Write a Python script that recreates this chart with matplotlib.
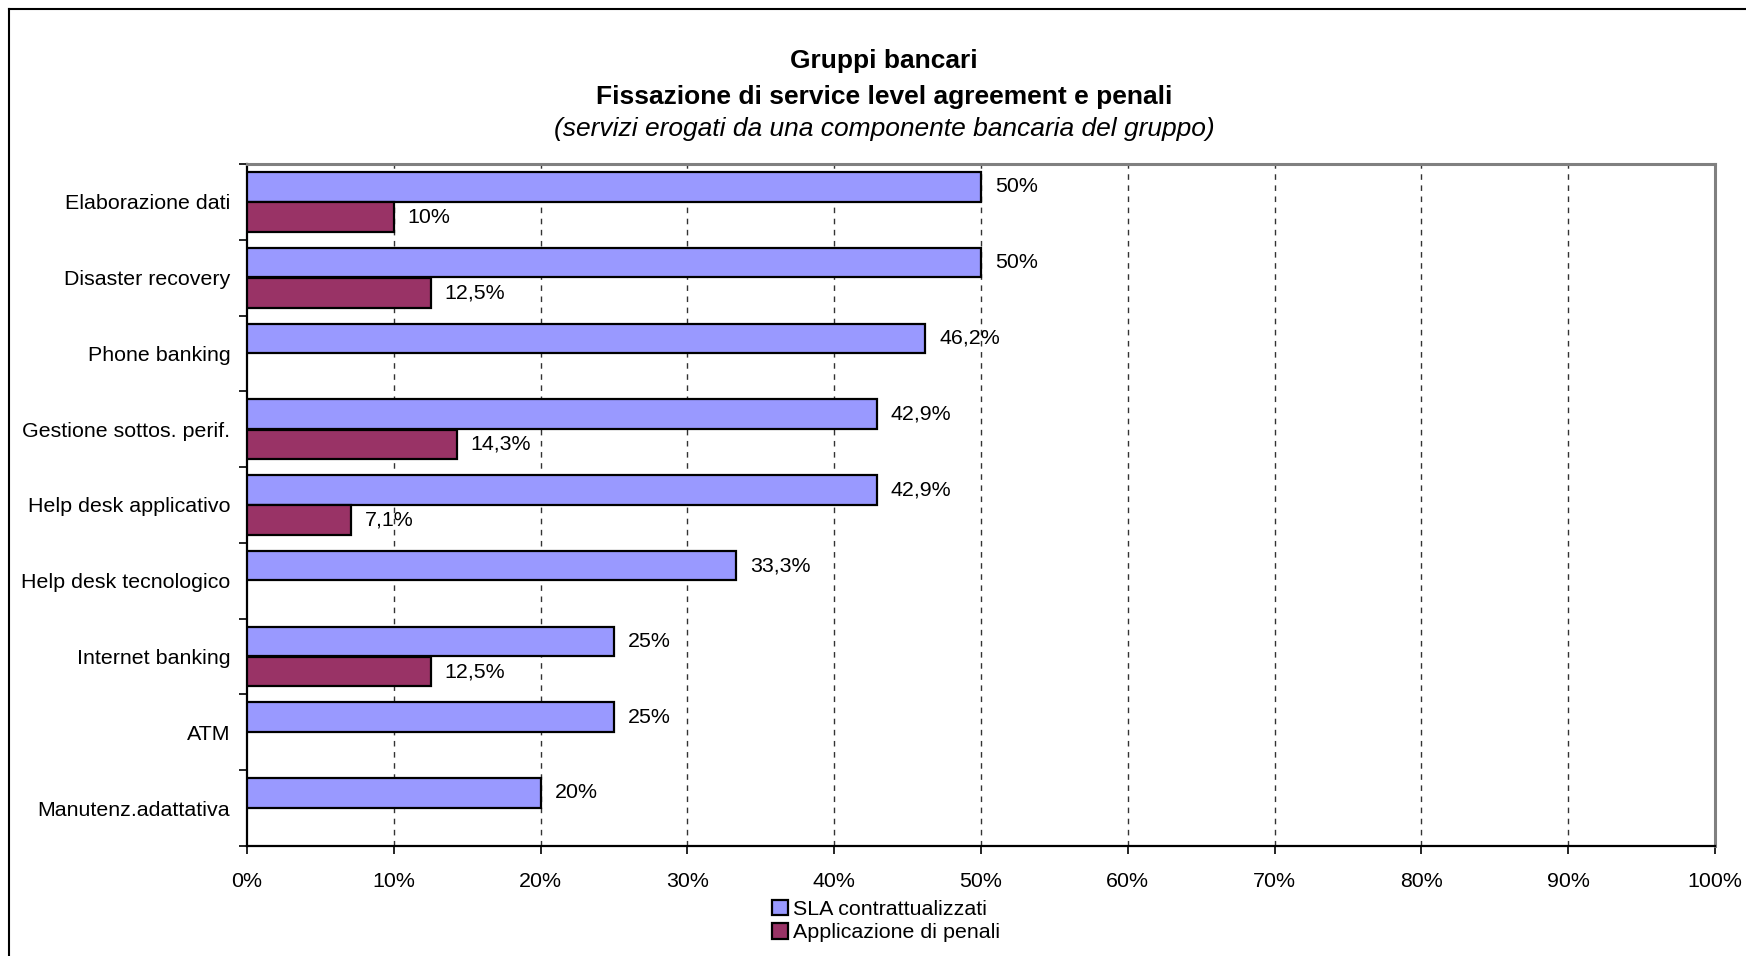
import matplotlib
matplotlib.use("Agg")
import matplotlib.pyplot as plt
from matplotlib.lines import Line2D
from matplotlib.ticker import FixedLocator
import numpy as np

plt.rcParams['font.family'] = ['Liberation Sans', 'DejaVu Sans']

categories = ["Elaborazione dati", "Disaster recovery", "Phone banking",
              "Gestione sottos. perif.", "Help desk applicativo",
              "Help desk tecnologico", "Internet banking", "ATM",
              "Manutenz.adattativa"]
sla = [50, 50, 46.2, 42.9, 42.9, 33.3, 25, 25, 20]
penali = [10, 12.5, None, 14.3, 7.1, None, 12.5, None, None]
series_names = ["SLA contrattualizzati", "Applicazione di penali"]
xticks = [0, 10, 20, 30, 40, 50, 60, 70, 80, 90, 100]

def fmt(v):
    s = f"{v:.1f}".rstrip('0').rstrip('.')
    return s.replace('.', ',') + '%'

W, H = 1746, 956
FS = 15.4
fig = plt.figure(figsize=(W / 100, H / 100), dpi=100)
ax = fig.add_axes([247 / W, 1 - 846 / H, (1715 - 247) / W, (846 - 164) / H])

y = np.arange(len(categories))
h = 0.39
c_sla = '#9999FF'
c_pen = '#993366'

b1 = ax.barh(y - 0.2, sla, height=h, color=c_sla, edgecolor='black', linewidth=1.6,
             label=series_names[0], zorder=3)
pen_idx = [i for i, v in enumerate(penali) if v is not None]
pen_vals = [penali[i] for i in pen_idx]
b2 = ax.barh(y[pen_idx] + 0.2, pen_vals, height=h, color=c_pen, edgecolor='black',
             linewidth=1.6, label=series_names[1], zorder=3)

ax.bar_label(b1, labels=[fmt(v) for v in sla], padding=10, fontsize=FS)
ax.bar_label(b2, labels=[fmt(v) for v in pen_vals], padding=10, fontsize=FS)

ax.set_xlim(0, 100)
ax.set_ylim(len(categories) - 0.5, -0.5)

ax.set_xticks(xticks)
ax.set_xticklabels([f"{t}%" for t in xticks], fontsize=FS)
ax.tick_params(axis='x', direction='out', length=6, width=1.2, pad=13, color='black')

ax.yaxis.set_major_locator(FixedLocator(np.arange(-0.5, len(categories), 1.0)))
ax.yaxis.set_minor_locator(FixedLocator(y))
ax.set_yticklabels([], minor=False)
ax.set_yticklabels(categories, minor=True, fontsize=FS)
ax.tick_params(axis='y', which='major', direction='out', length=6, width=1.2)
ax.tick_params(axis='y', which='minor', length=0, pad=12)

for t in xticks[1:-1]:
    ax.axvline(t, color='#333333', lw=1.0, ls=(0, (4, 4)), zorder=1)

ax.spines['left'].set_color('black')
ax.spines['left'].set_linewidth(1.6)
ax.spines['bottom'].set_color('black')
ax.spines['bottom'].set_linewidth(1.6)
ax.spines['top'].set_color('#808080')
ax.spines['top'].set_linewidth(2.2)
ax.spines['right'].set_color('#808080')
ax.spines['right'].set_linewidth(2.2)

cx = 884 / W
fig.text(cx, 1 - 61 / H, "Gruppi bancari", ha='center', va='center',
         fontsize=19, fontweight='bold')
fig.text(cx, 1 - 97 / H, "Fissazione di service level agreement e penali",
         ha='center', va='center', fontsize=19, fontweight='bold')
fig.text(cx, 1 - 129 / H, "(servizi erogati da una componente bancaria del gruppo)",
         ha='center', va='center', fontsize=19, style='italic')

fig.legend(handles=[b1, b2], labels=series_names, loc='center',
           bbox_to_anchor=(886 / W, 1 - 921 / H), frameon=False, fontsize=FS,
           handlelength=0.75, handleheight=0.75, handletextpad=0.25,
           labelspacing=0.2, borderpad=0)

bx, by = 9 / W, 1 - 9 / H
fig.add_artist(Line2D([bx, bx], [0, by], transform=fig.transFigure, color='black', lw=1.5))
fig.add_artist(Line2D([bx, 1], [by, by], transform=fig.transFigure, color='black', lw=1.5))

fig.savefig("out.png", dpi=100)
